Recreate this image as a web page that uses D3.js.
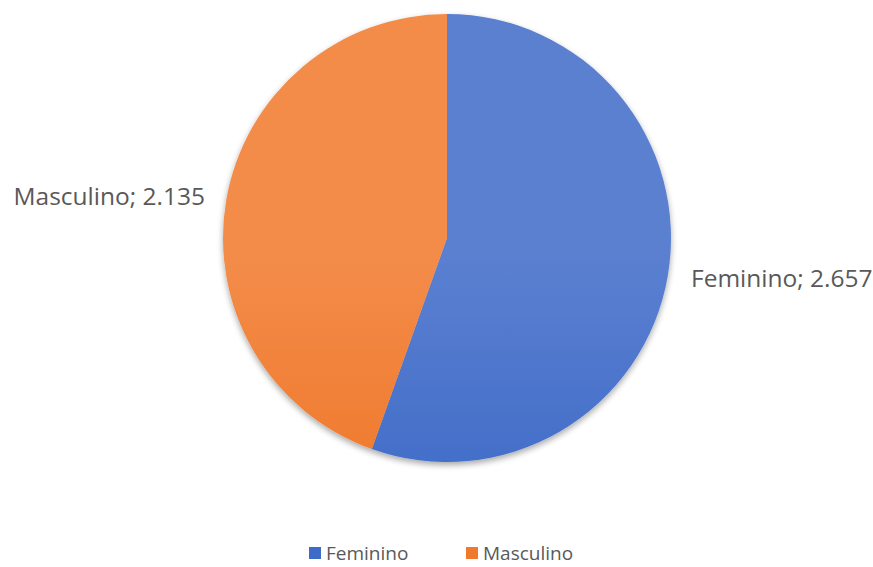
<!DOCTYPE html>
<html><head><meta charset="utf-8">
<script src="https://cdn.jsdelivr.net/npm/d3@7"></script>
<style>body{margin:0;background:#fff;}</style>
</head><body>
<svg id="c" width="873" height="567"></svg>
<script>
const categories = ["Feminino", "Masculino"];
const values = [2657, 2135];
const valueLabels = ["2.657", "2.135"];
const colorsTop = ["#5b80d0", "#f38c4a"];
const colorsBottom = ["#2a5cc2", "#ec6912"];

const svg = d3.select("#c");
const cx = 447, cy = 238, r = 224;
const font = "'Open Sans', sans-serif";

const defs = svg.append("defs");
categories.forEach((c, i) => {
  const g = defs.append("linearGradient").attr("id", "g" + i)
    .attr("gradientUnits", "userSpaceOnUse")
    .attr("x1", 0).attr("y1", cy - r).attr("x2", 0).attr("y2", cy + r);
  g.append("stop").attr("offset", "0%").attr("stop-color", colorsTop[i]);
  g.append("stop").attr("offset", "100%").attr("stop-color", colorsBottom[i]);
});
const f = defs.append("filter").attr("id", "sh").attr("x", "-10%").attr("y", "-10%").attr("width", "120%").attr("height", "125%");
f.append("feGaussianBlur").attr("in", "SourceAlpha").attr("stdDeviation", 3);
f.append("feOffset").attr("dy", 3).attr("result", "b");
f.append("feComponentTransfer").append("feFuncA").attr("type", "linear").attr("slope", 0.35);
const m = f.append("feMerge");
m.append("feMergeNode");
m.append("feMergeNode").attr("in", "SourceGraphic");

const pie = d3.pie().sort(null).value(d => d)(values);
const arc = d3.arc().innerRadius(0).outerRadius(r);
const color = d3.scaleOrdinal().domain(categories).range(categories.map((c, i) => "url(#g" + i + ")"));

const g = svg.append("g").attr("transform", `translate(${cx},${cy})`).attr("filter", "url(#sh)");
g.selectAll("path").data(pie).enter().append("path")
  .attr("d", arc)
  .attr("fill", (d, i) => color(categories[i]));

// data labels
const labelPos = [
  { x: 691, y: 287, anchor: "start" },
  { x: 205, y: 205, anchor: "end" }
];
svg.selectAll("text.lbl").data(pie).enter().append("text")
  .attr("class", "lbl")
  .attr("x", (d, i) => labelPos[i].x)
  .attr("y", (d, i) => labelPos[i].y)
  .attr("text-anchor", (d, i) => labelPos[i].anchor)
  .attr("font-family", font).attr("font-size", 24.5)
  .attr("fill", "#595959")
  .text((d, i) => categories[i] + "; " + valueLabels[i]);

// legend
const leg = svg.append("g");
const legX = [309, 466];
categories.forEach((c, i) => {
  leg.append("rect").attr("x", legX[i]).attr("y", 547).attr("width", 12).attr("height", 12)
    .attr("fill", i === 0 ? "#3e6ac8" : "#f07a2c");
  leg.append("text").attr("x", legX[i] + 17).attr("y", 560)
    .attr("font-family", font).attr("font-size", 19).attr("fill", "#595959").text(c);
});
</script>
</body></html>
